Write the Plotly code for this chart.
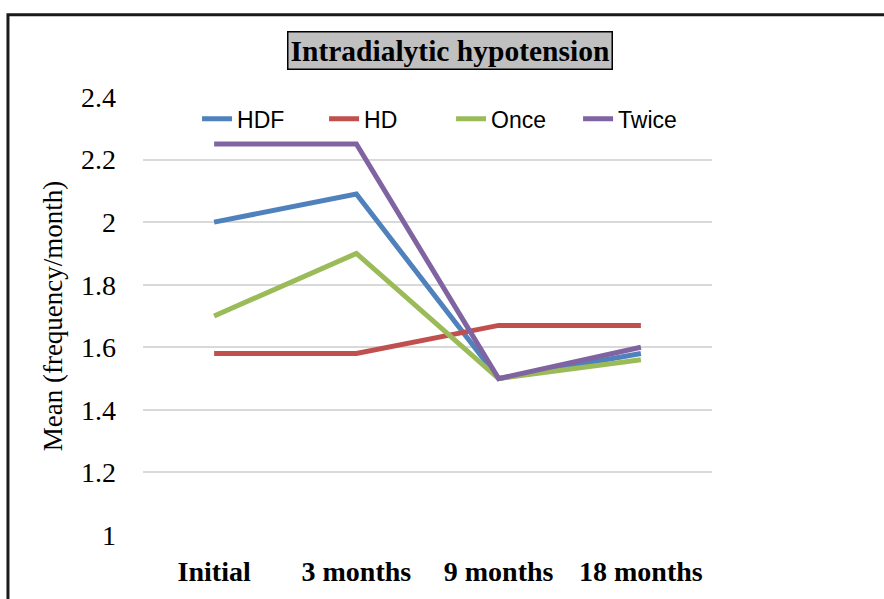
import plotly.graph_objects as go

# Visit times and mean intradialytic hypotension episodes (frequency/month)
timepoints = ["Initial", "3 months", "9 months", "18 months"]
hdf = [2.0, 2.09, 1.5, 1.58]
hd = [1.58, 1.58, 1.67, 1.67]
once = [1.7, 1.9, 1.5, 1.56]
twice = [2.25, 2.25, 1.5, 1.6]

y_ticks = [1, 1.2, 1.4, 1.6, 1.8, 2, 2.2, 2.4]
y_tick_text = ["1", "1.2", "1.4", "1.6", "1.8", "2", "2.2", "2.4"]

series = [
    ("HDF", hdf, "#4F81BD"),
    ("HD", hd, "#C0504D"),
    ("Once", once, "#9BBB59"),
    ("Twice", twice, "#8064A2"),
]

fig = go.Figure()
for name, vals, color in series:
    fig.add_trace(go.Scatter(
        x=timepoints, y=vals, name=name, mode="lines",
        line=dict(color=color, width=5),
    ))

serif = "Liberation Serif"

fig.update_layout(
    width=884, height=599,
    margin=dict(l=143, r=172, t=97, b=61),
    paper_bgcolor="white", plot_bgcolor="white",
    showlegend=True,
    legend=dict(
        orientation="h", x=0.095, xanchor="left", y=0.95, yanchor="middle",
        font=dict(family="Liberation Sans", size=23, color="black"),
        bgcolor="rgba(0,0,0,0)", entrywidth=82, entrywidthmode="pixels",
        tracegroupgap=0,
    ),
    xaxis=dict(
        range=[-0.5, 3.5], showgrid=False, zeroline=False, showline=False,
        ticks="", ticklabelstandoff=17,
        tickfont=dict(family=serif, size=28, color="black", weight="bold"),
    ),
    yaxis=dict(
        range=[1, 2.4], tickvals=y_ticks, ticktext=y_tick_text,
        showgrid=True, gridcolor="#D9D9D9", gridwidth=1.5,
        zeroline=False, showline=False, ticks="", ticklabelstandoff=26,
        tickfont=dict(family=serif, size=28, color="black"),
        title=dict(text="Mean (frequency/month)", standoff=10,
                   font=dict(family=serif, size=27, color="black")),
    ),
)

# Boxed chart title
fig.add_annotation(
    text="<b>Intradialytic hypotension</b>",
    xref="paper", yref="paper", x=0.5395, y=1.1066,
    xanchor="center", yanchor="middle", showarrow=False,
    font=dict(family=serif, size=29.5, color="black"),
    bgcolor="#C0C0C0", bordercolor="black", borderwidth=1.5, borderpad=2,
)

# Outer frame around the chart
fig.add_shape(
    type="rect", xref="paper", yref="paper",
    x0=-0.2373, x1=1.32, y0=-0.17, y1=1.188,
    line=dict(color="#1A1A1A", width=3), layer="above",
)

fig.write_html("out.html")
